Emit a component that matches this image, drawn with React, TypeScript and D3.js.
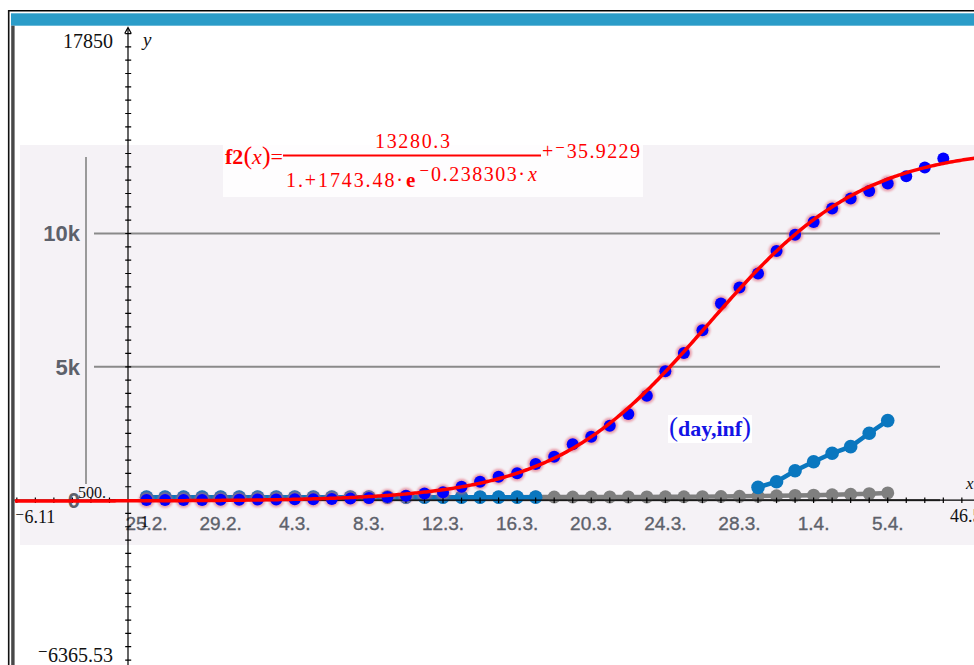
import React from "react";
import * as d3 from "d3";

const W = 974;
const H = 665;

// TI window settings
const X_MIN = -6.11;
const X_MAX = 46.5;
const Y_MIN = -6365.53;
const Y_MAX = 17850;
const X_SCALE_STEP = 1;
const Y_SCALE_STEP = 500;

// Confirmed cases (TI scatter "day,inf"), day 1 = 25.2.
const days = [1, 2, 3, 4, 5, 6, 7, 8, 9, 10, 11, 12, 13, 14, 15, 16, 17, 18, 19, 20, 21, 22, 23, 24, 25, 26, 27, 28, 29, 30, 31, 32, 33, 34, 35, 36, 37, 38, 39, 40, 41, 42, 43, 44];
const confirmed = [2, 2, 3, 3, 9, 14, 18, 21, 29, 30, 45, 55, 80, 120, 165, 250, 292, 502, 690, 877, 1004, 1353, 1627, 2091, 2376, 2788, 3227, 3910, 4835, 5521, 6372, 7372, 7972, 8497, 9344, 9950, 10432, 10935, 11311, 11596, 11873, 12147, 12473, 12810];

// Embedded picture series (days 1..41)
const imageDays = [1, 2, 3, 4, 5, 6, 7, 8, 9, 10, 11, 12, 13, 14, 15, 16, 17, 18, 19, 20, 21, 22, 23, 24, 25, 26, 27, 28, 29, 30, 31, 32, 33, 34, 35, 36, 37, 38, 39, 40, 41];
const imageConfirmed = [2, 2, 3, 3, 9, 14, 18, 21, 29, 30, 45, 55, 80, 120, 165, 250, 292, 502, 690, 877, 1004, 1353, 1627, 2091, 2376, 2788, 3227, 3910, 4835, 5521, 6372, 7372, 7972, 8497, 9344, 9950, 10432, 10935, 11311, 11596, 11873];
const recovered: (number | null)[] = [110, 110, 110, 110, 110, 110, 110, 110, 110, 110, 110, 110, 110, 110, 110, 110, 110, 110, 110, 110, 110, 110, null, null, null, null, null, null, null, null, null, null, null, 477, 688, 1102, 1440, 1756, 2004, 2508, 2982];
const deaths = [110, 110, 110, 110, 110, 110, 110, 110, 110, 110, 110, 110, 110, 110, 110, 110, 110, 110, 110, 110, 110, 115, 115, 115, 115, 120, 120, 120, 125, 125, 130, 135, 140, 150, 160, 175, 185, 200, 215, 240, 270];

const dateLabels = ["25.2.", "29.2.", "4.3.", "8.3.", "12.3.", "16.3.", "20.3.", "24.3.", "28.3.", "1.4.", "5.4."];
const dateLabelDays = [1, 5, 9, 13, 17, 21, 25, 29, 33, 37, 41];
const imageYTicks = [0, 5000, 10000];
const imageYTickLabels = ["0", "5k", "10k"];

// logistic fit shown in the chart
const FIT_A = 13280.3;
const FIT_B = 1743.48;
const FIT_K = 0.238303;
const FIT_C = -35.9229;

const PX_PER_X = 18.53;
const AXIS_X = 128;

export default function App() {
  const x = d3.scaleLinear().domain([X_MIN, X_MAX]).range([AXIS_X + X_MIN * PX_PER_X, AXIS_X + X_MAX * PX_PER_X]);
  const y = d3.scaleLinear().domain([Y_MIN, Y_MAX]).range([669.8, 24.2]);

  const f2 = (v: number) => FIT_A / (1 + FIT_B * Math.exp(-FIT_K * v)) + FIT_C;
  const curveXs = d3.range(X_MIN, X_MAX + 0.001, 0.1);
  const curvePath = d3.line<number>().x((v) => x(v)).y((v) => y(f2(v)))(curveXs) || "";

  const recPts = imageDays.map((d, i) => ({ d, v: recovered[i] }));
  const deathPts = imageDays.map((d, i) => ({ d, v: deaths[i] as number | null }));
  const lineGen = d3
    .line<{ d: number; v: number | null }>()
    .defined((p) => p.v != null)
    .x((p) => x(p.d))
    .y((p) => y(p.v as number));

  const yTicks = d3.range(Math.ceil(Y_MIN / Y_SCALE_STEP) * Y_SCALE_STEP, Y_MAX + 1, Y_SCALE_STEP).filter((t) => t !== 0);
  const xTicks = d3.range(Math.ceil(X_MIN), X_MAX + 0.001, X_SCALE_STEP).filter((t) => t !== 0);

  const y0 = y(0);
  const serif = "'Liberation Serif', 'DejaVu Serif', serif";
  const sans = "'Liberation Sans', Arial, sans-serif";
  const imgText = "#5d616b";

  return (
    <svg width={W} height={H} style={{ position: "fixed", left: 0, top: 0, background: "#fff" }}>
      <defs>
        <clipPath id="win">
          <rect x={14.5} y={26} width={W - 14.5} height={H - 26} />
        </clipPath>
        <filter id="blur" x="-50%" y="-50%" width="200%" height="200%">
          <feGaussianBlur stdDeviation="1" />
        </filter>
      </defs>
      <rect x={0} y={0} width={W} height={H} fill="#fff" />
      {/* window frame */}
      <line x1={8.5} x2={W} y1={10.8} y2={10.8} stroke="#000" strokeWidth={1.5} />
      <line x1={8.7} x2={8.7} y1={10} y2={H} stroke="#111" strokeWidth={1.6} />
      <rect x={11} y={13.3} width={W - 11} height={12.4} fill="#2b9cc8" />
      <rect x={11.2} y={25.7} width={3.4} height={H - 25.7} fill="#484848" />

      <g clipPath="url(#win)">
        {/* embedded picture */}
        <rect x={20} y={145} width={W - 20} height={400} fill="#f5f2f6" />
        {imageYTicks.filter((t) => t !== 0).map((t) => (
          <line key={t} x1={94} x2={940} y1={y(t)} y2={y(t)} stroke="#8a8a8a" strokeWidth={2} />
        ))}
        <line x1={86} x2={86} y1={157} y2={484} stroke="#9a9a9a" strokeWidth={2} />
        <line x1={94} x2={940} y1={y0} y2={y0} stroke="#6a6a6a" strokeWidth={2.2} />
        {imageYTicks.map((t, i) => (
          <text key={t} x={80} y={y(t) + 8} textAnchor="end" fontFamily={sans} fontSize={22} fontWeight="bold" fill={imgText}>
            {imageYTickLabels[i]}
          </text>
        ))}
        {dateLabels.map((lab, i) => (
          <text key={lab} x={x(dateLabelDays[i])} y={530} textAnchor="middle" fontFamily={sans} fontSize={19} fill={imgText} stroke={imgText} strokeWidth={0.35}>
            {lab}
          </text>
        ))}
        {/* picture series */}
        <path d={lineGen(deathPts) || ""} fill="none" stroke="#7f7f7f" strokeWidth={4.5} />
        {deathPts.map((p) => (
          <circle key={"g" + p.d} cx={x(p.d)} cy={y(p.v as number)} r={6.5} fill="#7f7f7f" />
        ))}
        <path d={lineGen(recPts) || ""} fill="none" stroke="#0a77bf" strokeWidth={4.5} />
        {recPts.filter((p) => p.v != null).map((p) => (
          <circle key={"t" + p.d} cx={x(p.d)} cy={y(p.v as number)} r={6.8} fill="#0a77bf" />
        ))}
        {imageDays.map((d, i) => (
          <circle key={"h" + d} cx={x(d)} cy={y(imageConfirmed[i])} r={8} fill="#e05a6e" opacity={0.55} filter="url(#blur)" />
        ))}

        {/* TI axes */}
        <line x1={AXIS_X} x2={AXIS_X} y1={28} y2={H} stroke="#000" strokeWidth={1.2} />
        <polyline points={`${AXIS_X - 3.3},33.5 ${AXIS_X},27.5 ${AXIS_X + 3.3},33.5`} fill="none" stroke="#000" strokeWidth={1.2} />
        {yTicks.map((t) => (
          <line key={t} x1={AXIS_X - 2.8} x2={AXIS_X + 3.2} y1={y(t)} y2={y(t)} stroke="#000" strokeWidth={1.2} />
        ))}
        <line x1={14} x2={W} y1={y0} y2={y0} stroke="#000" strokeWidth={1.2} />
        {xTicks.map((t) => (
          <line key={t} x1={x(t)} x2={x(t)} y1={y0 - 2.5} y2={y0 + 3} stroke="#000" strokeWidth={1.2} />
        ))}

        {/* TI labels */}
        <text x={113} y={47.5} textAnchor="end" fontFamily={serif} fontSize={20} fill="#111">17850</text>
        <text x={143} y={46} fontFamily={serif} fontSize={19} fontStyle="italic" fill="#111">y</text>
        <text x={113} y={661.5} textAnchor="end" fontFamily={serif} fontSize={20} fill="#111">⁻6365.53</text>
        <text x={15} y={523} fontFamily={serif} fontSize={18} fill="#111">⁻6.11</text>
        <text x={950} y={522} fontFamily={serif} fontSize={18} fill="#111">46.5</text>
        <text x={966} y={489} fontFamily={serif} fontSize={17} fontStyle="italic" fill="#111">x</text>
        <text x={78} y={498} fontFamily={serif} fontSize={16} fill="#111">500.</text>
        <text x={140.5} y={527} fontFamily={serif} fontSize={17} fill="#111">1</text>

        {/* TI scatter */}
        {days.map((d, i) => (
          <circle key={"b" + d} cx={x(d)} cy={y(confirmed[i])} r={6} fill="#0000ff" />
        ))}
        <path d={curvePath} fill="none" stroke="#ff0000" strokeWidth={3.5} />
      </g>

      {/* formula */}
      <rect x={223} y={145} width={420} height={52} fill="#fefdfe" />
      <g fill="#ff0000" fontFamily={serif}>
        <text x={225} y={164} fontSize={22} textLength={58}>
          <tspan fontWeight="bold">f2</tspan>
          <tspan fontSize={26}>(</tspan>
          <tspan fontStyle="italic">x</tspan>
          <tspan fontSize={26}>)</tspan>
          <tspan>=</tspan>
        </text>
        <line x1={283} x2={541} y1={155.5} y2={155.5} stroke="#ff0000" strokeWidth={2} />
        <text x={375} y={148} fontSize={20} textLength={75}>13280.3</text>
        <text x={286} y={187} fontSize={20} textLength={117}>1.+1743.48·</text>
        <text x={406} y={187} fontSize={21} fontWeight="bold">e</text>
        <text x={419} y={181} fontSize={20} textLength={106}>⁻0.238303·</text>
        <text x={528} y={181} fontSize={20} fontStyle="italic">x</text>
        <text x={542} y={158} fontSize={20} textLength={98}>+⁻35.9229</text>
      </g>

      {/* (day,inf) label */}
      <rect x={668} y={415} width={84} height={28} fill="#fff" />
      <text x={669} y={436} fontFamily={serif} fill="#1414e6" textLength={82}>
        <tspan fontSize={27}>(</tspan>
        <tspan fontSize={22} fontWeight="bold">day,inf</tspan>
        <tspan fontSize={27}>)</tspan>
      </text>
    </svg>
  );
}
